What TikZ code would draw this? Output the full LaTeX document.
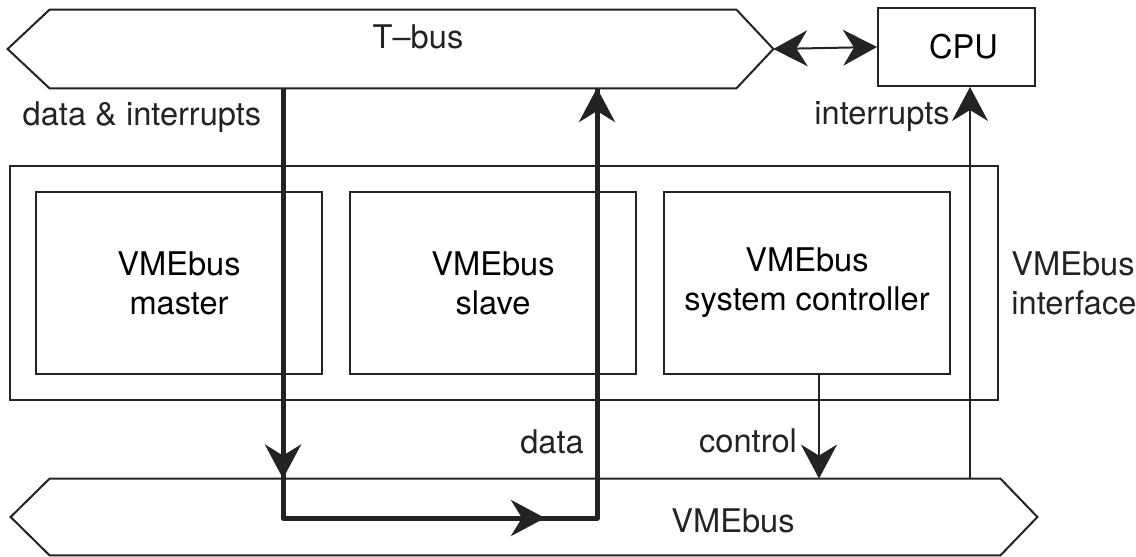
\documentclass[tikz,border=0pt]{standalone}
\usepackage{fontspec}
\setmainfont{TeX Gyre Heros}
\usepackage{tikz}
\usetikzlibrary{arrows.meta,positioning}
\definecolor{ink}{RGB}{35,35,35}
\tikzstyle{frame} = [draw=ink, line width=1pt]
\tikzstyle{busbox} = [rectangle, inner sep=0pt]
\tikzstyle{unit} = [rectangle, frame, minimum width=143pt, minimum height=91pt, align=center, inner sep=0pt]
\tikzstyle{txt} = [inner sep=0pt, text=ink]
\tikzstyle{link} = [draw=ink, line width=1pt]
\tikzstyle{datapath} = [draw=ink, line width=2.5pt, line join=round]
\tikzset{head/.tip={Stealth[length=17pt,width=18pt,inset=5.5pt]}}

\begin{document}
\begin{tikzpicture}[x=0.5pt, y=-0.5pt, font=\fontsize{16.3pt}{19.5pt}\selectfont]
\useasboundingbox (0,0) rectangle (1136,557);

% T-bus and CPU
\node (tbus) [busbox, minimum width=343pt, minimum height=39pt] at (393,49) {};
\draw[frame] (tbus.north west) -- (tbus.north east) -- ([xshift=18.5pt]tbus.east) -- (tbus.south east)
  -- (tbus.south west) -- ([xshift=-21pt]tbus.west) -- cycle;
\node (tbustext) [txt] at (418,37) {T--bus};
\node (cpu) [unit, minimum width=78.5pt, minimum height=39pt] at (956.5,47) {\hspace*{7pt}CPU};
\draw[link, head-head] ([xshift=18.5pt]tbus.east) -- (cpu.west);

% VMEbus interface with its three parts
\node (iface) [rectangle, frame, minimum width=494pt, minimum height=117pt] at (504,283) {};
\node (master) [unit] at (179,283) {VMEbus\\master};
\node (slave) [unit, right=13pt of master] {VMEbus\\slave};
\node (sysctl) [unit, right=13pt of slave] {VMEbus\\system controller};
\node (ifacetext) [txt, right=6pt of iface, align=left] {VMEbus\\interface};

% VMEbus
\node (vme) [busbox, minimum width=475pt, minimum height=38pt] at (525,517) {};
\draw[frame] (vme.north west) -- (vme.north east) -- ([xshift=18.5pt]vme.east) -- (vme.south east)
  -- (vme.south west) -- ([xshift=-19.5pt]vme.west) -- cycle;
\node (vmetext) [txt] at (733,521) {VMEbus};

% data path T-bus -> VMEbus -> T-bus
\coordinate (tout) at (283,88);
\coordinate (tin) at (597,88);
\coordinate (bl) at (283,518);
\coordinate (br) at (597,518);
\draw[datapath] (tout) -- (bl) -- (br) -- (tin);
\draw[datapath, -head] (tout) -- (tout |- vme.north);
\draw[datapath, -head] (bl) -- ([xshift=-26pt]br);
\draw[datapath, -head] (br) -- (tin);

% control and interrupt lines
\coordinate (ctl) at ([xshift=6pt]sysctl.south);
\draw[link, -head] (ctl) -- (ctl |- vme.north);
\coordinate (irq) at (970,479);
\draw[link, -head] (irq) -- (irq |- cpu.south);

% labels
\node (dilabel) [txt] at (142,117) {data \& interrupts};
\node (irqlabel) [txt] at (882,117) {interrupts};
\node (datalabel) [txt] at (552,442) {data};
\node (ctllabel) [txt] at (748,441) {control};
\end{tikzpicture}
\end{document}
